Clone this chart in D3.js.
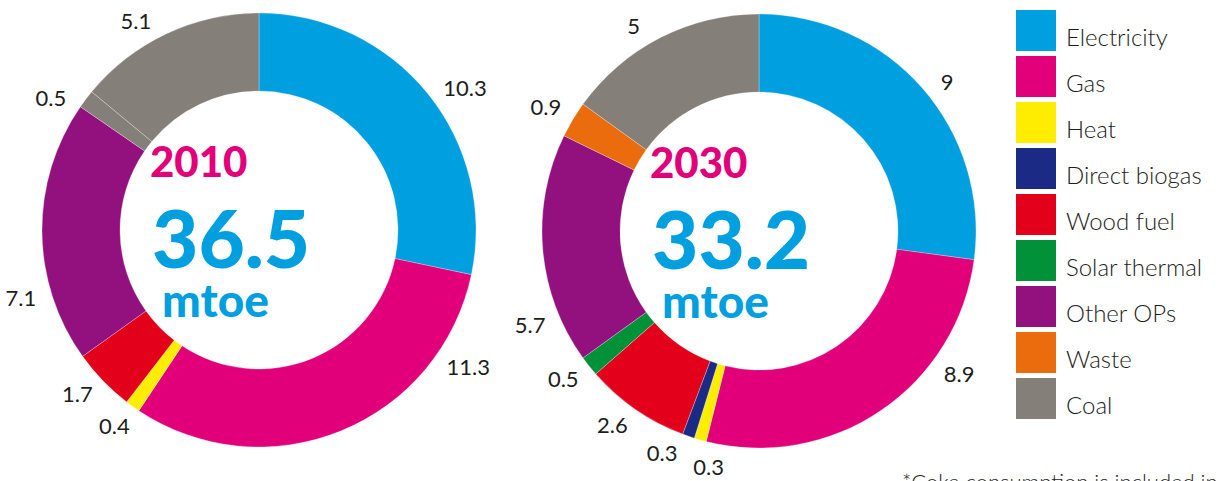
<!DOCTYPE html>
<html>
<head>
<meta charset="utf-8">
<script src="https://cdn.jsdelivr.net/npm/d3@7"></script>
<style>
  body { margin: 0; background: #fff; }
  svg { display: block; }
</style>
</head>
<body>
<div id="chart"></div>
<script>
// Data
const categories = ['Electricity', 'Gas', 'Heat', 'Direct biogas', 'Wood fuel', 'Solar thermal', 'Other OPs', 'Waste', 'Coal'];
const colors = ['#009fdf', '#e2007a', '#ffed00', '#1b2a84', '#e2001a', '#009139', '#93117e', '#ea6c0c', '#857f7a'];

// 2010 - the 0.5 grey slice is coke, drawn with the coal colour
const slices2010 = ['Electricity', 'Gas', 'Heat', 'Wood fuel', 'Other OPs', 'Coal', 'Coal'];
const values2010 = [10.3, 11.3, 0.4, 1.7, 7.1, 0.5, 5.1];

const slices2030 = ['Electricity', 'Gas', 'Heat', 'Direct biogas', 'Wood fuel', 'Solar thermal', 'Other OPs', 'Waste', 'Coal'];
const values2030 = [9, 8.9, 0.3, 0.3, 2.6, 0.5, 5.7, 0.9, 5];

const years = ['2010', '2030'];
const totals = ['36.5', '33.2'];
const unit = 'mtoe';
const footnote = '*Coke consumption is included in coal';

// Layout
const width = 1218, height = 481;
const outerR = 217, innerR = 139;
const labelR = 233;
const charts = [
  { cx: 259, cy: 230, slices: slices2010, values: values2010, nudge: [3, -33, 0, 1, -16, -4, -4.5] },
  { cx: 759, cy: 231, slices: slices2030, values: values2030, nudge: [3, -19.5, -4, 4, 1.5, 0.5, -18, 0, -4.5] }
];

const color = d3.scaleOrdinal().domain(categories).range(colors);

const svg = d3.select('#chart')
  .append('svg')
  .attr('width', width)
  .attr('height', height)
  .attr('viewBox', `0 0 ${width} ${height}`);

const pie = d3.pie().sort(null).value(d => d);
const arc = d3.arc().innerRadius(innerR).outerRadius(outerR);

const labelFont = 'Lato, "Open Sans", sans-serif';

charts.forEach((c, ci) => {
  const g = svg.append('g').attr('transform', `translate(${c.cx},${c.cy})`);
  const arcs = pie(c.values);

  g.selectAll('path')
    .data(arcs)
    .join('path')
    .attr('d', arc)
    .attr('fill', (d, i) => color(c.slices[i]))
    .attr('stroke', 'rgba(255,255,255,0.45)')
    .attr('stroke-width', 0.6);

  // value labels around the ring
  const labels = g.selectAll('text.value')
    .data(arcs)
    .join('text')
    .attr('class', 'value')
    .attr('font-family', labelFont)
    .attr('font-weight', 400)
    .attr('font-size', '22px')
    .attr('fill', '#1d1d1b')
    .attr('text-anchor', 'middle')
    .text(d => d.data);

  labels.each(function (d, i) {
    const a = (d.startAngle + d.endAngle) / 2 + (c.nudge[i] || 0) * Math.PI / 180;
    const w = this.getComputedTextLength();
    const h = 16;
    const x = Math.sin(a) * labelR + Math.sin(a) * w / 2;
    const y = -Math.cos(a) * labelR - Math.cos(a) * h / 2;
    d3.select(this).attr('x', x).attr('y', y + h / 2);
  });

  // centre text
  g.append('text')
    .attr('x', -109).attr('y', -53)
    .attr('font-family', labelFont)
    .attr('font-weight', 900)
    .attr('font-size', '42px')
    .attr('fill', '#e2007a')
    .text(years[ci]);

  g.append('text')
    .attr('x', -107).attr('y', 38)
    .attr('font-family', labelFont)
    .attr('font-weight', 900)
    .attr('font-size', '80px')
    .attr('fill', '#009fdf')
    .text(totals[ci]);

  g.append('text')
    .attr('x', -97).attr('y', 87)
    .attr('font-family', labelFont)
    .attr('font-weight', 900)
    .attr('font-size', '46px')
    .attr('fill', '#009fdf')
    .text(unit);
});

// Legend
const legendY = d3.scaleBand().domain(categories).range([10, 10 + 46 * categories.length]);
const legend = svg.append('g');

const item = legend.selectAll('g')
  .data(categories)
  .join('g')
  .attr('transform', d => `translate(1016, ${legendY(d)})`);

item.append('rect')
  .attr('width', 40)
  .attr('height', 41)
  .attr('fill', d => color(d));

item.append('text')
  .attr('x', 50)
  .attr('y', 36)
  .attr('font-family', labelFont)
  .attr('font-weight', 300)
  .attr('font-size', '24px')
  .attr('fill', '#1d1d1b')
  .text(d => d);

// Footnote (cut off by the picture edge, as in the original)
svg.append('text')
  .attr('x', 902)
  .attr('y', 490)
  .attr('font-family', labelFont)
  .attr('font-weight', 300)
  .attr('font-size', '22px')
  .attr('fill', '#1d1d1b')
  .text(footnote);
</script>
</body>
</html>
